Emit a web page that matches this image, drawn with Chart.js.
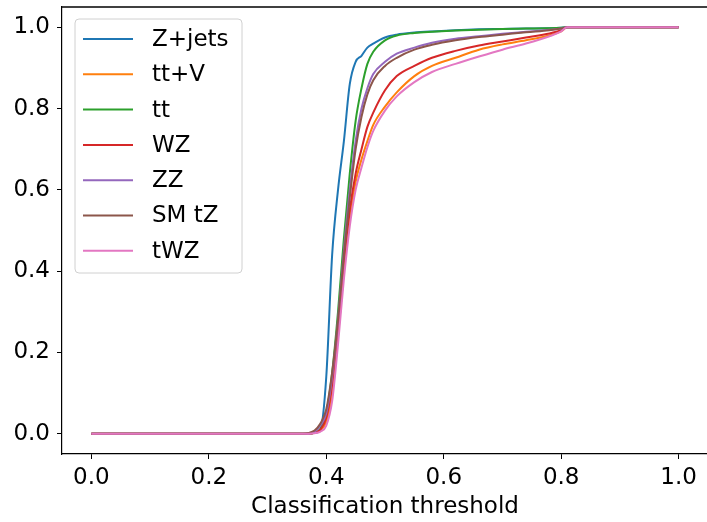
<!DOCTYPE html>
<html>
<head>
<meta charset="utf-8">
<script src="https://cdn.jsdelivr.net/npm/chart.js@4/dist/chart.umd.min.js"></script>
<style>
    html, body { margin: 0; padding: 0; background: #fff; overflow: hidden; }
    #wrap { width: 710px; height: 522px; }
</style>
</head>
<body>
<div id="wrap"><canvas id="cut"></canvas></div>
<script>
// classification threshold (shared x grid)
const thresholds = [0, 0.36, 0.37, 0.38, 0.39, 0.40, 0.41, 0.42, 0.43, 0.44, 0.45, 0.46, 0.47, 0.48,
    0.50, 0.52, 0.55, 0.58, 0.62, 0.66, 0.70, 0.74, 0.78, 0.80, 0.81, 1.0];

const zJets = [0, 0, 0, 0.002, 0.01, 0.14, 0.44, 0.60, 0.72, 0.86, 0.915, 0.93, 0.95, 0.96,
    0.975, 0.982, 0.987, 0.99, 0.993, 0.995, 0.996, 0.997, 0.998, 0.999, 1, 1];
const ttV = [0, 0, 0, 0.002, 0.008, 0.03, 0.10, 0.24, 0.40, 0.53, 0.62, 0.675, 0.72, 0.76,
    0.805, 0.84, 0.88, 0.905, 0.925, 0.945, 0.958, 0.968, 0.98, 0.99, 1, 1];
const tt = [0, 0, 0, 0.003, 0.012, 0.05, 0.15, 0.30, 0.48, 0.64, 0.77, 0.85, 0.91, 0.94,
    0.968, 0.98, 0.986, 0.989, 0.992, 0.994, 0.996, 0.997, 0.998, 0.999, 1, 1];
const wz = [0, 0, 0, 0.003, 0.01, 0.04, 0.12, 0.26, 0.42, 0.55, 0.64, 0.70, 0.755, 0.79,
    0.845, 0.88, 0.905, 0.925, 0.942, 0.955, 0.965, 0.975, 0.985, 0.993, 1, 1];
const zz = [0, 0, 0, 0.005, 0.02, 0.05, 0.14, 0.28, 0.45, 0.60, 0.72, 0.80, 0.85, 0.885,
    0.915, 0.935, 0.95, 0.962, 0.972, 0.978, 0.984, 0.989, 0.994, 0.997, 1, 1];
const smTZ = [0, 0, 0.002, 0.008, 0.025, 0.06, 0.15, 0.28, 0.44, 0.58, 0.70, 0.78, 0.835, 0.87,
    0.905, 0.925, 0.945, 0.957, 0.968, 0.976, 0.982, 0.988, 0.993, 0.997, 1, 1];
const tWZ = [0, 0, 0, 0.001, 0.005, 0.02, 0.08, 0.22, 0.38, 0.51, 0.60, 0.655, 0.705, 0.745,
    0.795, 0.83, 0.865, 0.89, 0.91, 0.928, 0.945, 0.96, 0.978, 0.99, 1, 1];

const seriesNames = ['Z+jets', 'tt+V', 'tt', 'WZ', 'ZZ', 'SM tZ', 'tWZ'];
const seriesData = [zJets, ttV, tt, wz, zz, smTZ, tWZ];
const seriesColors = ['#1f77b4', '#ff7f0e', '#2ca02c', '#d62728', '#9467bd', '#8c564b', '#e377c2'];

const tickValues = [0, 0.2, 0.4, 0.6, 0.8, 1.0];

const FONT = 'DejaVu Sans';
const FSIZE = 23;

// matplotlib style frame + legend box inside the axes
const mplFrame = {
    id: 'mplFrame',
    afterDraw(chart) {
        const {ctx, chartArea} = chart;
        ctx.save();
        ctx.strokeStyle = '#000';
        ctx.lineWidth = 1.5;
        ctx.beginPath();
        ctx.moveTo(chartArea.left, Math.round(chartArea.top));
        ctx.lineTo(chartArea.right, Math.round(chartArea.top));
        ctx.stroke();

        // legend
        const x0 = chartArea.left + 13, y0 = chartArea.top + 12;
        const w = 167, rowH = 35.3;
        const h = 254;
        ctx.beginPath();
        ctx.roundRect(x0, y0, w, h, 4);
        ctx.fillStyle = 'rgba(255,255,255,0.8)';
        ctx.fill();
        ctx.strokeStyle = '#d0d0d0';
        ctx.lineWidth = 1;
        ctx.stroke();

        ctx.font = FSIZE + 'px "' + FONT + '"';
        ctx.textBaseline = 'middle';
        ctx.textAlign = 'left';
        seriesNames.forEach((name, i) => {
            const cy = y0 + 20 + i * rowH;
            ctx.strokeStyle = seriesColors[i];
            ctx.lineWidth = 2;
            ctx.beginPath();
            ctx.moveTo(x0 + 8, cy);
            ctx.lineTo(x0 + 58, cy);
            ctx.stroke();
            ctx.fillStyle = '#000';
            ctx.fillText(name, x0 + 77, cy + 1);
        });
        ctx.restore();
    }
};

const ctx = document.getElementById('cut').getContext('2d');

const datasets = seriesNames.map((name, i) => ({
    label: name,
    data: thresholds.map((t, j) => ({x: t, y: seriesData[i][j]})),
    borderColor: seriesColors[i],
    backgroundColor: seriesColors[i],
    borderWidth: 2,
    fill: false,
    pointRadius: 0,
    cubicInterpolationMode: 'monotone',
    order: seriesNames.length - i
}));

const cutChart = new Chart(ctx, {
    type: 'line',
    data: {datasets: datasets},
    options: {
        responsive: true,
        maintainAspectRatio: false,
        animation: false,
        layout: {
            padding: {left: 0, top: 7, right: 2, bottom: 0}
        },
        plugins: {
            legend: {display: false},
            tooltip: {enabled: false}
        },
        scales: {
            x: {
                type: 'linear',
                min: -0.05,
                max: 1.05,
                afterBuildTicks: axis => { axis.ticks = tickValues.map(v => ({value: v})); },
                afterFit: axis => {
                    axis.height = 68;
                    axis.paddingLeft = 0;
                    axis.paddingRight = 0;
                },
                grid: {
                    display: true,
                    drawOnChartArea: false,
                    tickLength: 5,
                    color: '#000',
                    tickWidth: 1
                },
                border: {display: true, color: '#000', width: 1.2},
                ticks: {
                    padding: 5,
                    color: '#000',
                    font: {family: FONT, size: FSIZE},
                    callback: v => v.toFixed(1)
                },
                title: {
                    display: true,
                    text: 'Classification threshold',
                    color: '#000',
                    font: {family: FONT, size: FSIZE},
                    padding: {top: 0, bottom: 1}
                }
            },
            y: {
                min: -0.05,
                max: 1.05,
                afterBuildTicks: axis => { axis.ticks = tickValues.map(v => ({value: v})); },
                afterFit: axis => {
                    axis.width = 62;
                    axis.paddingTop = 0;
                    axis.paddingBottom = 0;
                },
                grid: {
                    display: true,
                    drawOnChartArea: false,
                    tickLength: 5,
                    color: '#000',
                    tickWidth: 1
                },
                border: {display: true, color: '#000', width: 1.2},
                ticks: {
                    padding: 7,
                    color: '#000',
                    font: {family: FONT, size: FSIZE},
                    callback: v => v.toFixed(1)
                }
            }
        }
    },
    plugins: [mplFrame]
});
</script>
</body>
</html>
